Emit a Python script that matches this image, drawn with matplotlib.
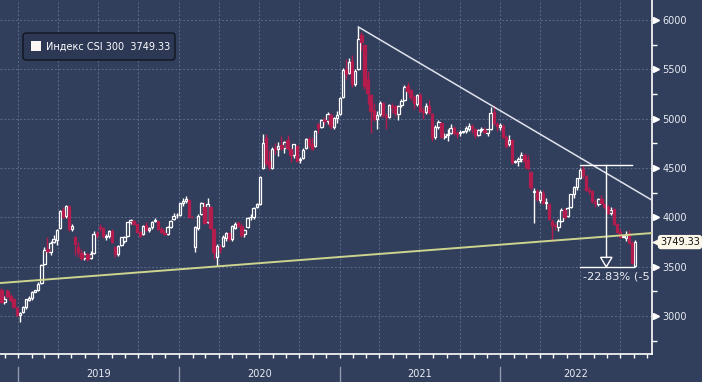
import numpy as np
import pandas as pd
import matplotlib
matplotlib.use('Agg')
import matplotlib.pyplot as plt
import matplotlib.dates as mdates
from matplotlib.patches import FancyBboxPatch, Polygon, Rectangle
from matplotlib.transforms import blended_transform_factory, IdentityTransform

# ---------------- data (weekly OHLC, CSI 300) ----------------
first_week = '2018-11-23'
opens = [
    3264, 3140, 3250, 3200, 3170, 3085,
    3010, 3040, 3090, 3165, 3185, 3247, 3265, 3330, 3530, 3680, 3650, 3750, 3770, 3890, 4070,
    4010, 4110, 3880, 3800, 3700, 3640, 3590, 3630, 3590, 3640, 3840, 3900, 3890, 3800, 3810,
    3860, 3700, 3630, 3720, 3760, 3810, 3950, 3960, 3930, 3850, 3830, 3920, 3870, 3900, 3960,
    3960, 3880, 3840, 3830, 3900, 3980, 4020,
    4020, 4150, 4170, 4180, 4003, 3700, 3890, 4030, 4100, 3950, 4100, 3880, 3600, 3690, 3710,
    3790, 3840, 3780, 3890, 3940, 3910, 3830, 3900, 4000, 4000, 4100, 4140, 4500, 4800, 4570,
    4500, 4700, 4690, 4730, 4700, 4780, 4690, 4630, 4720, 4580, 4600, 4700, 4790, 4740, 4720,
    4950, 4920, 4990, 4980, 5040, 4920, 5010,
    5050, 5220, 5500, 5460, 5580, 5350, 5500, 5850, 5750, 5400, 5240, 5090, 5000, 5050, 5160,
    5030, 5020, 5130, 5130, 5050, 5140, 5190, 5330, 5290, 5220, 5150, 5240, 5080, 5070, 5130,
    5050, 4810, 4920, 4960, 4810, 4830, 4850, 4910, 4850, 4850, 4866, 4880, 4900, 4930, 4900,
    4830, 4890, 4890, 4860, 4900, 5070, 4950,
    4920, 4930, 4810, 4740, 4780, 4563, 4570, 4590, 4630, 4580, 4460, 4260, 4270, 4180, 4250,
    4150, 4140, 3960, 3921, 3900, 3960, 4070, 4010, 4100, 4240, 4310, 4400, 4490, 4420, 4280,
    4270, 4160, 4140, 4190, 4140, 4100, 4040, 4080, 3930, 3850, 3804, 3790, 3840, 3740, 3510,
]
highs = [
    3285, 3200, 3275, 3220, 3180, 3100,
    3045, 3100, 3175, 3200, 3250, 3265, 3340, 3530, 3700, 3800, 3760, 3820, 3880, 4070, 4110,
    4127, 4125, 3930, 3810, 3750, 3680, 3660, 3640, 3660, 3860, 3860, 3930, 3900, 3830, 3870,
    3880, 3710, 3720, 3800, 3810, 3955, 3985, 3970, 3940, 3860, 3920, 3950, 3900, 3960, 3990,
    3965, 3900, 3870, 3910, 3975, 4040, 4040,
    4150, 4200, 4215, 4190, 4010, 3910, 4030, 4160, 4160, 4200, 4120, 3890, 3730, 3720, 3820,
    3850, 3850, 3920, 3950, 3960, 3940, 3880, 4000, 4030, 4110, 4150, 4420, 4840, 4840, 4680,
    4710, 4750, 4760, 4820, 4770, 4830, 4700, 4740, 4730, 4610, 4700, 4800, 4810, 4810, 4890,
    4960, 5000, 5020, 5070, 5060, 5020, 5080,
    5220, 5510, 5600, 5620, 5650, 5500, 5930, 5880, 5760, 5480, 5250, 5160, 5080, 5180, 5170,
    5060, 5150, 5160, 5140, 5140, 5200, 5340, 5370, 5300, 5240, 5250, 5260, 5120, 5160, 5190,
    5060, 4940, 4990, 4970, 4850, 4900, 4950, 4930, 4880, 4890, 4880, 4930, 4960, 4950, 4910,
    4900, 4920, 4920, 4900, 5120, 5140, 4970,
    4960, 4950, 4830, 4830, 4790, 4580, 4610, 4660, 4650, 4630, 4470, 4300, 4290, 4280, 4280,
    4200, 4150, 3980, 3940, 3980, 4090, 4090, 4100, 4240, 4320, 4400, 4500, 4530, 4430, 4310,
    4280, 4190, 4200, 4230, 4150, 4130, 4100, 4090, 3940, 3880, 3815, 3860, 3870, 3760, 3770,
]
lows = [
    3135, 3120, 3180, 3140, 3080, 3000,
    2935, 3030, 3070, 3150, 3160, 3240, 3255, 3320, 3515, 3640, 3620, 3740, 3720, 3880, 3990,
    3990, 3860, 3860, 3620, 3600, 3570, 3570, 3560, 3580, 3630, 3790, 3860, 3790, 3770, 3790,
    3740, 3600, 3610, 3710, 3740, 3800, 3935, 3920, 3840, 3800, 3820, 3860, 3850, 3880, 3950,
    3870, 3840, 3820, 3825, 3890, 3975, 3990,
    4010, 4120, 4150, 3990, 3990, 3650, 3870, 4020, 3930, 3940, 3880, 3580, 3505, 3640, 3700,
    3760, 3760, 3760, 3880, 3900, 3800, 3800, 3890, 3970, 3980, 4090, 4130, 4490, 4520, 4480,
    4490, 4640, 4620, 4680, 4650, 4680, 4560, 4600, 4560, 4550, 4590, 4690, 4700, 4680, 4710,
    4850, 4910, 4940, 4950, 4900, 4900, 4960,
    5040, 5210, 5400, 5450, 5320, 5330, 5490, 5700, 5300, 5150, 4860, 4980, 4900, 5030, 5020,
    4900, 5010, 5060, 5030, 4990, 5120, 5180, 5260, 5190, 5100, 5130, 5070, 5000, 5050, 5050,
    4770, 4790, 4900, 4800, 4790, 4770, 4840, 4830, 4800, 4820, 4850, 4860, 4880, 4860, 4800,
    4820, 4870, 4850, 4820, 4890, 4940, 4880,
    4890, 4800, 4700, 4720, 4540, 4555, 4520, 4560, 4500, 4480, 4280, 3940, 4170, 4150, 4140,
    4080, 3970, 3757, 3870, 3860, 3950, 3980, 4000, 4090, 4200, 4280, 4390, 4400, 4270, 4240,
    4150, 4100, 4120, 4140, 4080, 4030, 4020, 3920, 3840, 3790, 3800, 3760, 3740, 3530, 3495,
]
closes = [
    3143, 3172, 3205, 3166, 3088, 3010,
    3035, 3095, 3168, 3184, 3247, 3260, 3326, 3521, 3671, 3658, 3745, 3783, 3872, 4062, 4001,
    4120, 3880, 3913, 3730, 3649, 3586, 3630, 3578, 3629, 3835, 3825, 3893, 3808, 3807, 3858,
    3747, 3633, 3706, 3799, 3799, 3948, 3972, 3935, 3852, 3814, 3911, 3869, 3896, 3952, 3973,
    3877, 3849, 3828, 3902, 3968, 4017, 4022,
    4144, 4163, 4187, 4003, 4000, 3899, 4015, 4149, 3940, 4138, 3895, 3653, 3710, 3675, 3796,
    3839, 3785, 3912, 3937, 3913, 3824, 3868, 3990, 4003, 4099, 4138, 4409, 4754, 4551, 4506,
    4695, 4694, 4727, 4705, 4760, 4698, 4627, 4739, 4570, 4587, 4681, 4793, 4734, 4695, 4880,
    4908, 4986, 4980, 5045, 4923, 5005, 5042,
    5211, 5496, 5458, 5570, 5351, 5484, 5808, 5779, 5336, 5262, 5076, 5000, 5038, 5161, 5035,
    5014, 5135, 5123, 5057, 5133, 5180, 5321, 5283, 5224, 5155, 5239, 5081, 5071, 5130, 5057,
    4811, 4919, 4962, 4816, 4827, 4849, 4906, 4856, 4849, 4866, 4870, 4909, 4924, 4907, 4831,
    4888, 4891, 4861, 4892, 5055, 4954, 4921,
    4940, 4818, 4727, 4779, 4563, 4570, 4588, 4635, 4576, 4496, 4304, 4268, 4186, 4262, 4148,
    4150, 3980, 3921, 3908, 3968, 4078, 4000, 4091, 4238, 4309, 4394, 4485, 4428, 4277, 4271,
    4170, 4144, 4191, 4144, 4102, 4045, 4073, 3932, 3856, 3804, 3810, 3822, 3743, 3541, 3749.33,
]
last_value = 3749.33
legend_label = 'Индекс CSI 300  3749.33'
change_label = '-22.83% (-5'
y_ticks = [3000, 3500, 4000, 4500, 5000, 5500, 6000]
years = [2019, 2020, 2021, 2022]

# user-drawn trend lines (date, value)
resist_dates = ['2021-02-12', '2022-12-12']
resist_vals = [5930, 4174]
support_dates = ['2018-11-20', '2022-12-12']
support_vals = [3334, 3841]

# ---------------- style ----------------
BG = '#313e5c'
GRID = '#5d6b8b'
DOWN = '#b41c4e'
UPC = '#ffffff'
TXT = '#e9ecf2'

W, H = 702, 382
fig = plt.figure(figsize=(W / 100, H / 100), dpi=100, facecolor=BG)
ax_bottom_px = 354
ax = fig.add_axes([0, 1 - ax_bottom_px / H, 652 / W, ax_bottom_px / H])
ax.set_facecolor(BG)

dates = pd.date_range(first_week, periods=len(closes), freq='W-FRI')
x = mdates.date2num(dates)
o = np.array(opens, float)
h = np.array(highs, float)
l = np.array(lows, float)
c = np.array(closes, float)

x0 = mdates.date2num(pd.Timestamp('2018-11-20'))
x1 = mdates.date2num(pd.Timestamp('2022-12-12'))
ax.set_xlim(x0, x1)
ax.set_ylim(2615, 6203)

# grid
for v in y_ticks:
    ax.axhline(v, color=GRID, lw=0.7, ls=(0, (2, 2)), zorder=0)
for d in pd.date_range('2019-01-01', '2022-10-01', freq='QS'):
    ax.axvline(mdates.date2num(d), color=GRID, lw=0.7, ls=(0, (2, 2)), zorder=0)

# candles
up = c >= o
dn = ~up
ax.vlines(x[up], l[up], h[up], color=UPC, lw=1.0, zorder=2)
ax.vlines(x[dn], l[dn], h[dn], color=DOWN, lw=1.0, zorder=2)
cw = 5.4
ax.bar(x[up], np.maximum(c[up] - o[up], 6), bottom=o[up], width=cw,
       facecolor=BG, edgecolor=UPC, lw=0.9, zorder=3)
ax.bar(x[dn], np.maximum(o[dn] - c[dn], 6), bottom=c[dn], width=cw,
       facecolor=DOWN, edgecolor=DOWN, lw=0.9, zorder=3)

# trend lines
ax.plot(mdates.date2num(pd.to_datetime(resist_dates)), resist_vals,
        color='#dfe3ec', lw=1.1, zorder=5)
ax.plot(mdates.date2num(pd.to_datetime(support_dates)), support_vals,
        color='#cdd48e', lw=1.4, zorder=5)

# measurement annotation (peak -> trough of the last leg)
win = dates >= pd.Timestamp('2022-06-01')
peak = h[win].max()
trough = l[win].min()
mL = mdates.date2num(pd.Timestamp('2022-07-02'))
mRt = mdates.date2num(pd.Timestamp('2022-10-27'))
mRb = mdates.date2num(pd.Timestamp('2022-11-01'))
mM = mdates.date2num(pd.Timestamp('2022-08-30'))
ax.plot([mL, mRt], [peak, peak], color='white', lw=1.0, zorder=6)
ax.plot([mL, mRb], [trough, trough], color='white', lw=1.0, zorder=6)
head = 100
ax.plot([mM, mM], [peak, trough + head], color='white', lw=1.0, zorder=6)
ax.add_patch(Polygon([[mM - 13, trough + head], [mM + 13, trough + head], [mM, trough + 2]],
                     closed=True, fill=False, edgecolor='white', lw=1.0, zorder=6))
ax.text(mdates.date2num(pd.Timestamp('2022-07-08')), trough - 90, change_label,
        color=TXT, fontsize=8.2, ha='left', va='center', zorder=7, clip_on=True)

# spines / ticks
for s in ['top', 'left']:
    ax.spines[s].set_visible(False)
for s in ['right', 'bottom']:
    ax.spines[s].set_color('white')
    ax.spines[s].set_linewidth(1.2)

ax.xaxis.set_major_locator(mdates.MonthLocator())
ax.tick_params(axis='x', which='major', direction='out', length=3, width=1,
               color='white', labelbottom=False)

ax.yaxis.tick_right()
ax.set_yticks(y_ticks)
ax.set_yticklabels([str(v) for v in y_ticks])
ax.set_yticks([v + 250 for v in [2500] + y_ticks[:-1]], minor=True)
ax.tick_params(axis='y', which='major', length=0, pad=7.5, labelsize=7, labelcolor=TXT)
ax.tick_params(axis='y', which='minor', length=3.6, width=1, color='white', direction='out')

ytrans = blended_transform_factory(ax.transAxes, ax.transData)
ax.plot(np.full(len(y_ticks), 1 + 4.5 / 652), y_ticks, ls='none', marker='>', ms=4.2,
        color='white', transform=ytrans, clip_on=False)

# last value tag
ax.plot([1 + 4 / 652], [last_value], ls='none', marker='<', ms=5, color='#fdf7ea',
        transform=ytrans, clip_on=False)
ax.text(1 + 8 / 652, last_value, f'{last_value:.2f}', transform=ytrans, ha='left', va='center',
        fontsize=7, color='#111111', clip_on=False,
        bbox=dict(boxstyle='round,pad=0.22,rounding_size=0.3', fc='#fdf7ea', ec='none'))

# year band
xtrans = blended_transform_factory(ax.transData, ax.transAxes)
bounds = [mdates.date2num(pd.Timestamp(f'{y}-01-01')) for y in years] + [x1]
for i, yr in enumerate(years):
    ax.plot([bounds[i], bounds[i]], [-13 / ax_bottom_px, -28 / ax_bottom_px], color='#8f98ad',
            lw=1, transform=xtrans, clip_on=False)
    ax.text((bounds[i] + bounds[i + 1]) / 2, -20 / ax_bottom_px, str(yr), transform=xtrans,
            ha='center', va='center', fontsize=7, color=TXT, clip_on=False)

# legend box (pixel coordinates)
fig.add_artist(FancyBboxPatch((23, H - 60), 152, 27, boxstyle='round,pad=0,rounding_size=3',
                              transform=IdentityTransform(), facecolor='#2c3854',
                              edgecolor='#10151f', lw=1.0))
fig.add_artist(Rectangle((31, H - 51), 10, 10, transform=IdentityTransform(),
                         facecolor='#fdf7f2', edgecolor='none'))
fig.text(46 / W, 1 - 46.5 / H, legend_label, color='white', fontsize=7, ha='left', va='center')

fig.savefig('out.png', dpi=100, facecolor=BG)
